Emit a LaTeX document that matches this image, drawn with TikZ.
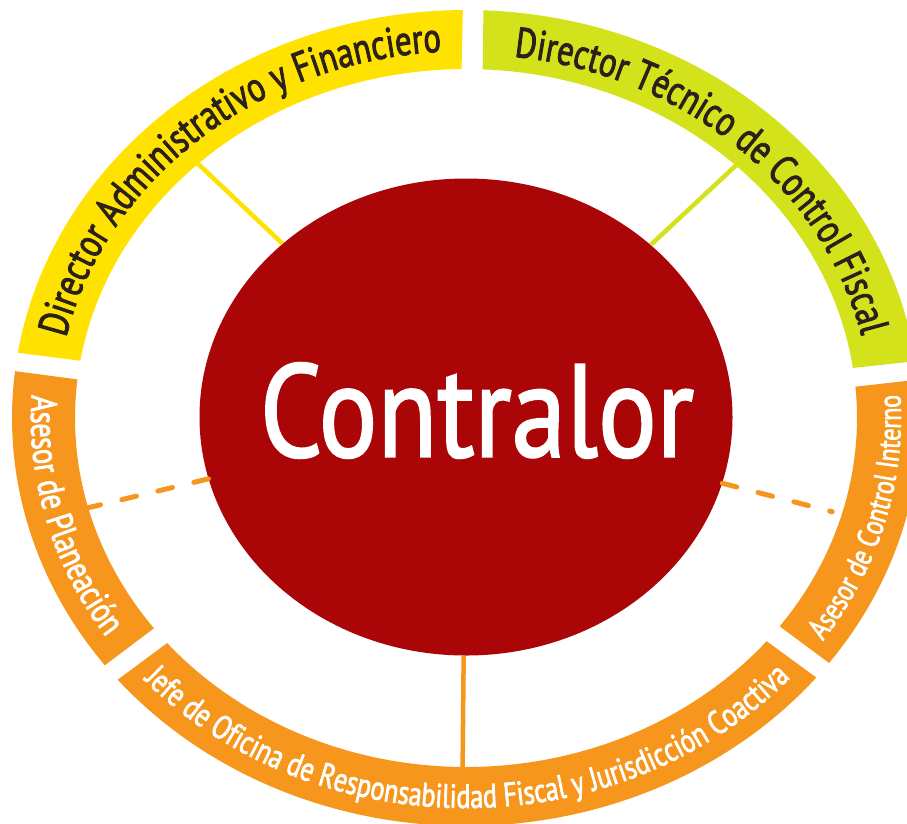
\documentclass[tikz,border=0pt]{standalone}
\usepackage{fontspec}
\setmainfont{PT Sans}
\newfontfamily\condf{PT Sans}[FakeStretch=0.78, FakeBold=2]
\newfontfamily\coref{PT Sans}[FakeStretch=0.83, FakeBold=1.5]
\usetikzlibrary{shapes.geometric,decorations.text}
\definecolor{bandyellow}{HTML}{FFE200}
\definecolor{bandlime}{HTML}{D3E21B}
\definecolor{bandorange}{HTML}{F7961D}
\definecolor{coreRed}{HTML}{AA0507}
\definecolor{labeldark}{HTML}{2A201C}
% #1 colour, #2/#3 outer start/end angle, #4/#5 inner start/end angle
\newcommand{\ringseg}[5]{%
  \fill[#1] (#2:454 and 408) arc[start angle=#2, end angle=#3, x radius=454, y radius=408]
    -- (#5:391 and 349) arc[start angle=#5, end angle=#4, x radius=391, y radius=349] -- cycle;}
\begin{document}
\begin{tikzpicture}[x=1pt,y=1pt,
  core/.style={ellipse, fill=coreRed, minimum width=533pt, minimum height=477pt, inner sep=0pt},
  spoke/.style={line width=4.5pt},
  dashspoke/.style={line width=5pt, line cap=round, dash pattern=on 15pt off 22pt, color=bandorange},
]
\useasboundingbox (0,0) rectangle (907,-823);
\fill[white] (0,0) rectangle (907,-823);
\clip (0,0) rectangle (907,-823);
\begin{scope}[shift={(466,-418)}]
  % ring segments
  \ringseg{bandyellow}{90.4}{170.8}{90.65}{170.55}
  \ringseg{bandorange}{173.4}{217.3}{173.65}{217.05}
  \ringseg{bandorange}{219.9}{320.5}{220.15}{320.25}
  \ringseg{bandorange}{323.1}{365.4}{323.35}{365.15}
  \ringseg{bandlime}{8.0}{87.8}{8.25}{87.55}
  % central node
  \node[core] (ctr) at (0,1) {};
  \node[text=white, font=\coref\fontsize{132}{132}\selectfont, inner sep=0pt] (ctrlabel) at (11,7.5) {Contralor};
  % connector ends on the ring
  \coordinate (admIn) at (133.3:396 and 354);
  \coordinate (tecIn) at (46.3:396 and 354);
  \coordinate (plaIn) at (194.9:391 and 349);
  \coordinate (intIn) at (-16:381 and 340);
  \coordinate (jefIn) at (269.5:396 and 354);
  \draw[spoke, bandyellow] (ctr) -- (admIn);
  \draw[spoke, bandlime] (ctr) -- (tecIn);
  \draw[dashspoke] (ctr) -- (plaIn);
  \draw[dashspoke] (ctr) -- (intIn);
  \draw[spoke, bandorange] (ctr) -- (jefIn);
  % labels along the ring
  \path[decorate, decoration={text along path, text align=center, text color=labeldark,
      text={|\condf\fontsize{42}{42}\selectfont|Director Administrativo y Financiero}}]
    (170.3:410 and 367) arc[start angle=170.3, end angle=90.8, x radius=410, y radius=367];
  \path[decorate, decoration={text along path, text align=center, text color=labeldark,
      text={|\condf\fontsize{42}{42}\selectfont|Director Técnico de Control Fiscal}}]
    (87.4:406 and 364) arc[start angle=87.4, end angle=8.4, x radius=406, y radius=364];
  \path[decorate, decoration={text along path, text align=center, text color=white,
      text={|\condf\fontsize{31}{31}\selectfont|Asesor de Control Interno}}]
    (-36.4:435 and 390) arc[start angle=-36.4, end angle=5.0, x radius=435, y radius=390];
  \path[decorate, decoration={text along path, text align=center, text color=white,
      text={|\condf\fontsize{33.5}{33.5}\selectfont|Jefe de Oficina de Responsabilidad Fiscal y Jurisdicción Coactiva}}]
    (220.3:435 and 390) arc[start angle=220.3, end angle=320.1, x radius=435, y radius=390];
  \path[decorate, decoration={text along path, text align=center, text color=white,
      text={|\condf\fontsize{36.5}{36.5}\selectfont|Asesor de Planeación}}]
    (173.7:435 and 390) arc[start angle=173.7, end angle=217.0, x radius=435, y radius=390];
\end{scope}
\end{tikzpicture}
\end{document}
